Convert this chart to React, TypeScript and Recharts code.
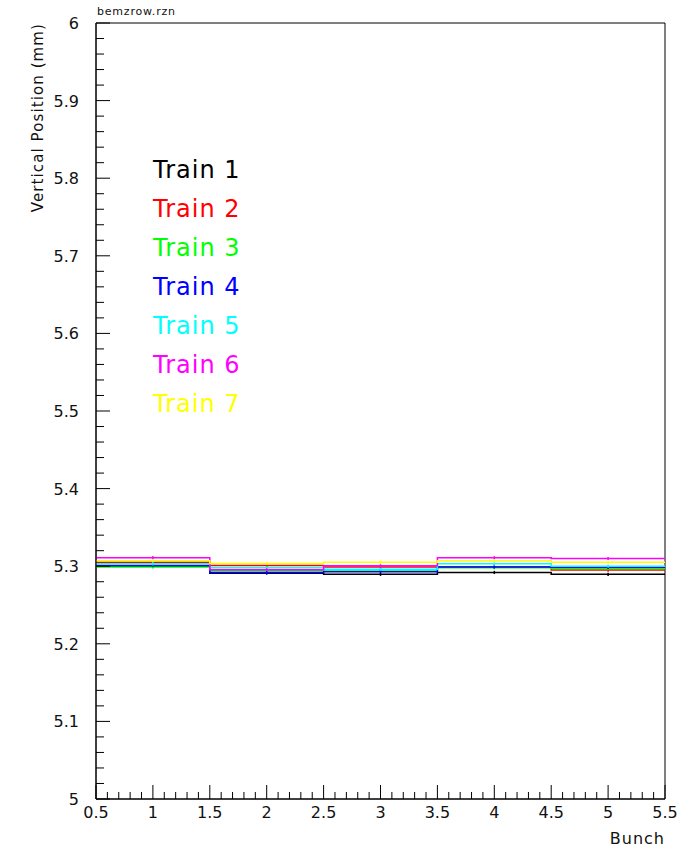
import * as React from "react";
import {
  ComposedChart,
  Line,
  XAxis,
  YAxis,
  ErrorBar,
  ReferenceArea,
  Legend,
} from "recharts";

// bunch numbers (bin centres) and the mean vertical position of each train
const bunches = [1, 2, 3, 4, 5];
const train1 = [5.3, 5.291, 5.2895, 5.292, 5.2895];
const train2 = [5.305, 5.301, 5.299, 5.299, 5.295];
const train3 = [5.299, 5.294, 5.295, 5.298, 5.297];
const train4 = [5.301, 5.292, 5.293, 5.299, 5.2985];
const train5 = [5.303, 5.298, 5.296, 5.303, 5.3];
const train6 = [5.311, 5.2955, 5.3006, 5.311, 5.31];
const train7 = [5.307, 5.3035, 5.305, 5.307, 5.305];
const errors = [0.002, 0.002, 0.002, 0.002, 0.002];

const trains = [
  { name: "Train 1", values: train1, color: "#000000" },
  { name: "Train 2", values: train2, color: "#ff0000" },
  { name: "Train 3", values: train3, color: "#00ff00" },
  { name: "Train 4", values: train4, color: "#0000ff" },
  { name: "Train 5", values: train5, color: "#00ffff" },
  { name: "Train 6", values: train6, color: "#ff00ff" },
  { name: "Train 7", values: train7, color: "#ffff00" },
];

const xTicks = Array.from({ length: 51 }, (_, i) => Math.round((0.5 + i * 0.1) * 10) / 10);
const yTicks = Array.from({ length: 51 }, (_, i) => Math.round((5 + i * 0.02) * 100) / 100);

const FONT = "'DejaVu Sans', sans-serif";

// histogram rows: bin edges (no error) and bin centres (with error)
const rows: any[] = [];
bunches.forEach((b, i) => {
  const edge: any = { x: b - 0.5 };
  const centre: any = { x: b };
  trains.forEach((t, k) => {
    edge["t" + k] = t.values[i];
    edge["e" + k] = 0;
    centre["t" + k] = t.values[i];
    centre["e" + k] = errors[i];
  });
  rows.push(edge, centre);
});
const last: any = { x: bunches[bunches.length - 1] + 0.5 };
trains.forEach((t, k) => {
  last["t" + k] = t.values[t.values.length - 1];
  last["e" + k] = 0;
});
rows.push(last);

const isMultiple = (v: number, step: number) =>
  Math.abs(v / step - Math.round(v / step)) < 1e-6;

function XTick({ x, y, payload }: any) {
  const v = payload.value;
  const major = isMultiple(v, 0.5);
  return (
    <g>
      <line x1={x} x2={x} y1={y} y2={y - (major ? 14 : 7)} stroke="#000" />
      {major && (
        <text x={x} y={y + 19} textAnchor="middle" fontSize={16} fontFamily={FONT} fill="#111">
          {String(v)}
        </text>
      )}
    </g>
  );
}

function YTick({ x, y, payload }: any) {
  const v = payload.value;
  const major = isMultiple(v, 0.1);
  return (
    <g>
      <line x1={x} x2={x + (major ? 14 : 8)} y1={y} y2={y} stroke="#000" />
      {major && (
        <text x={x - 17} y={y + 6} textAnchor="end" fontSize={16} fontFamily={FONT} fill="#111">
          {String(v)}
        </text>
      )}
    </g>
  );
}

function TrainLegend({ payload }: any) {
  return (
    <div>
      {(payload || []).map((p: any) => (
        <div
          key={p.value}
          style={{
            color: p.color,
            fontFamily: FONT,
            fontSize: 24,
            letterSpacing: 1,
            lineHeight: "39px",
            whiteSpace: "nowrap",
          }}
        >
          {p.value}
        </div>
      ))}
    </div>
  );
}

export default function App() {
  return (
    <div style={{ position: "absolute", left: 0, top: 0, background: "#fff" }}>
      <ComposedChart
        width={683}
        height={848}
        data={rows}
        margin={{ top: 23, right: 18, bottom: 0, left: 0 }}
      >
        <XAxis
          type="number"
          dataKey="x"
          domain={[0.5, 5.5]}
          ticks={xTicks}
          interval={0}
          allowDataOverflow
          tickSize={0}
          tickMargin={0}
          tickLine={false}
          tick={<XTick />}
          axisLine={{ stroke: "#000" }}
          height={49}
          label={{
            content: ({ viewBox }: any) => (
              <text
                x={viewBox.x + viewBox.width}
                y={viewBox.y + 45}
                textAnchor="end"
                fontSize={16}
                letterSpacing={1}
                fontFamily={FONT}
                fill="#111"
              >
                Bunch
              </text>
            ),
          }}
        />
        <YAxis
          type="number"
          domain={[5, 6]}
          ticks={yTicks}
          interval={0}
          allowDataOverflow
          tickSize={0}
          tickMargin={0}
          tickLine={false}
          tick={<YTick />}
          axisLine={{ stroke: "#000" }}
          width={96}
          label={{
            content: ({ viewBox }: any) => (
              <text
                x={43}
                y={viewBox.y}
                transform={`rotate(-90, 43, ${viewBox.y})`}
                textAnchor="end"
                fontSize={15}
                letterSpacing={1.1}
                fontFamily={FONT}
                fill="#111"
              >
                Vertical Position (mm)
              </text>
            ),
          }}
        />
        <ReferenceArea
          x1={0.5}
          x2={5.5}
          y1={5}
          y2={6}
          fill="none"
          stroke="#000"
          label={{
            content: ({ viewBox }: any) => (
              <text
                x={viewBox.x + 1}
                y={viewBox.y - 8}
                fontSize={11}
                letterSpacing={0.8}
                fontFamily={FONT}
                fill="#111"
              >
                bemzrow.rzn
              </text>
            ),
          }}
        />
        {trains.map((t, k) => (
          <Line
            key={t.name}
            name={t.name}
            dataKey={"t" + k}
            type="stepAfter"
            stroke={t.color}
            strokeWidth={1.5}
            dot={false}
            activeDot={false}
            isAnimationActive={false}
          >
            <ErrorBar dataKey={"e" + k} width={0} stroke={t.color} direction="y" isAnimationActive={false} />
          </Line>
        ))}
        <Legend
          layout="horizontal"
          verticalAlign="middle"
          align="center"
          content={<TrainLegend />}
          wrapperStyle={{ left: 153, top: 151, width: "auto", height: "auto" }}
        />
      </ComposedChart>
    </div>
  );
}
